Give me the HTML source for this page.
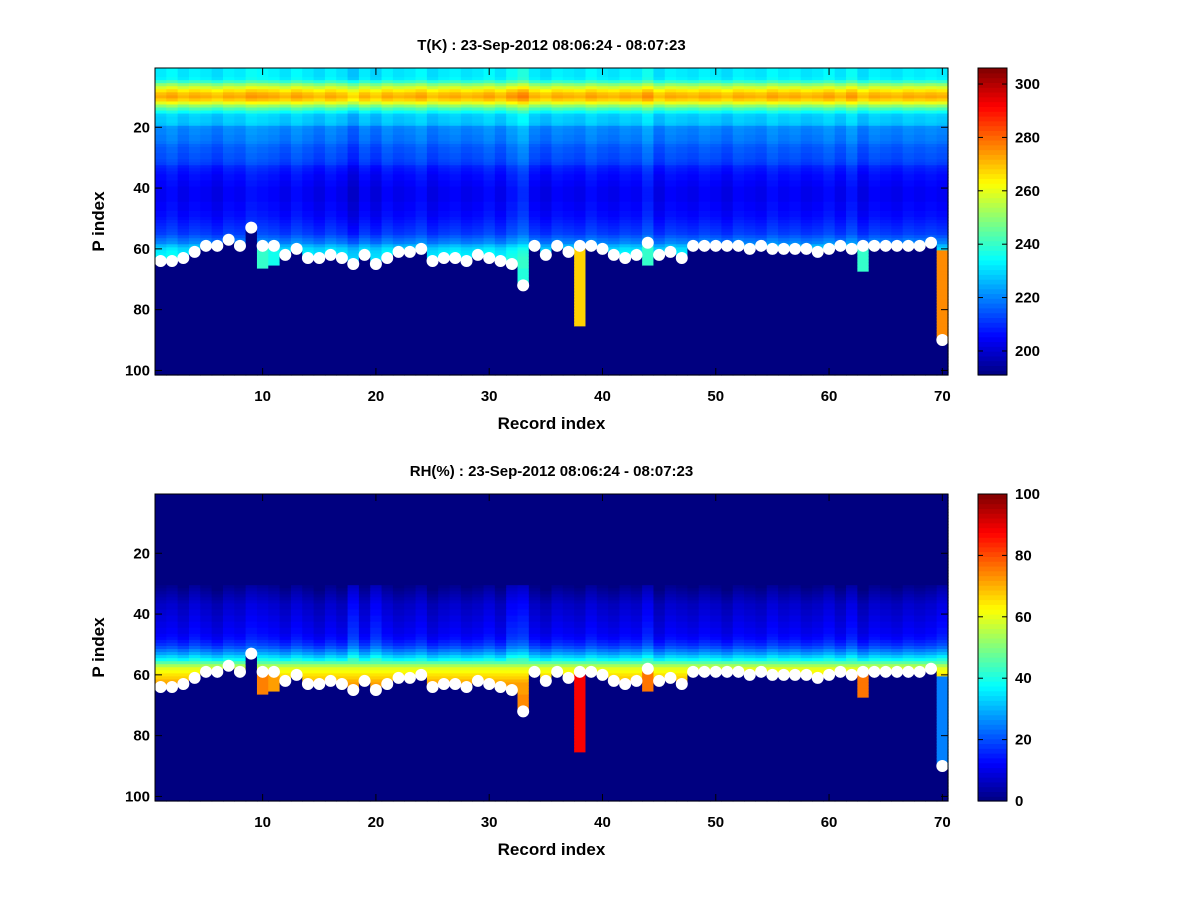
<!DOCTYPE html>
<html><head><meta charset="utf-8"><style>
html,body{margin:0;padding:0;background:#fff}
svg text{font-family:"Liberation Sans",sans-serif;font-weight:bold;fill:#000}
</style></head><body>
<svg id="fig" width="1200" height="900" xmlns="http://www.w3.org/2000/svg">
<rect width="1200" height="900" fill="#fff"/>
</svg>
<script>
// ---- data ----
const records = Array.from({length:70},(_,i)=>i+1);
const surfaceP = [64,64,63,61,59,59,57,59,53,59,59,62,60,63,63,62,63,65,62,65,63,61,61,60,64,63,63,64,62,63,64,65,72,59,62,59,61,59,59,60,62,63,62,58,62,61,63,59,59,59,59,59,60,59,60,60,60,60,61,60,59,60,59,59,59,59,59,59,58,90];
const extendP = {10:66,11:65,33:72,38:85,44:65,63:67,70:90};
const extStartP = {10:59,11:59,33:66,38:59,44:58,63:59,70:60};
const tExtVal = {10:240,11:236,33:238,38:268,44:240,63:240,70:276};
const rhExtVal = {10:75,11:72,33:74,38:88,44:76,63:76,70:25};
// temperature mean profile by P level (1..101)
const tProfile = [232,232,232,233,240,250,258,265,270,272,268,260,250,242,235,229,228,228,227,221,220,220,219,219,218,216,215,215,214,214,213,212,209,208,207,206,206,205,205,204,204,204,204,204,205,205,205,206,206,207,208,209,210,211,212,215,218,220,226,230,232,233,234,234,234,234,234,234,234,234,234,234,234,234,234,234,234,234,234,234,234,234,234,234,234,234,234,234,234,234,234,234,234,234,234,234,234,234,234,234,234];
const tOffset = [0,2,-1,1,0,-2,1,0,3,2,1,-1,2,0,-2,1,-1,-5,0,-3,1,-1,0,2,-2,0,1,-1,0,2,-1,3,6,0,-2,1,0,-1,2,0,-1,1,0,4,-2,1,0,-1,1,0,-2,1,0,-1,2,0,1,-1,0,2,-1,3,-2,1,0,-1,1,0,1,0];
// relative humidity mean profile by P level (1..101)
const rhProfile = [0,0,0,0,0,0,0,0,0,0,0,0,0,0,0,0,0,0,0,0,0,0,0,0,0,0,0,0,0,0,1,2,3,4,5,6,7,7,8,8,9,9,10,10,11,11,12,13,15,17,20,24,28,33,38,46,54,60,62,65,67,70,72,72,72,72,72,72,72,72,72,72,72,72,72,72,72,72,72,72,72,72,72,72,72,72,72,72,72,72,72,72,72,72,72,72,72,72,72,72,72];
const rhOffset = [0,1,-1,2,0,-2,1,0,3,2,1,-1,2,0,-2,1,-1,6,0,5,1,-1,0,2,-2,0,1,-1,0,2,-1,5,6,0,-2,1,0,-1,2,0,-1,1,0,4,-2,1,0,-1,1,0,-2,1,0,-1,2,0,1,-1,0,2,-1,3,-2,1,0,-1,1,0,1,3];
const xTicks=[10,20,30,40,50,60,70];
const yTicks=[20,40,60,80,100];
const tCbTicks=[200,220,240,260,280,300];
const rhCbTicks=[0,20,40,60,80,100];

const NS="http://www.w3.org/2000/svg";
const svg=document.getElementById('fig');
function mk(tag,attrs,parent){const e=document.createElementNS(NS,tag);for(const k in attrs)e.setAttribute(k,attrs[k]);(parent||svg).appendChild(e);return e;}
function jet(v){v=Math.max(0,Math.min(1,v));
 const r=Math.max(0,Math.min(1,1.5-Math.abs(4*v-3))),g=Math.max(0,Math.min(1,1.5-Math.abs(4*v-2))),b=Math.max(0,Math.min(1,1.5-Math.abs(4*v-1)));
 return `rgb(${Math.round(r*255)},${Math.round(g*255)},${Math.round(b*255)})`;}

function panel(cfg){
 const X0=155,X1=948,Y0=cfg.y0,Y1=cfg.y0+307;
 const xs=r=>X0+(r-0.5)*(X1-X0)/70;
 const ys=p=>Y0+(p-0.5)*(Y1-Y0)/101;
 const cw=(X1-X0)/70,ch=(Y1-Y0)/101;
 const g=mk('g',{});
 
 
 const norm=v=>(v-cfg.vmin)/(cfg.vmax-cfg.vmin);
 records.forEach((r,i)=>{
  for(let p=1;p<=101;p++){
   let v;
   const s=surfaceP[i];
   const ex=extendP[r]||0, es=extStartP[r]||999;
   if(p>es&&p<=ex) v=cfg.ext[r];
   else if(p<=s) v=cfg.field(i,p);
   else v=cfg.vmin;
   const c=mk('rect',{x:(xs(r)-cw/2).toFixed(2),y:(ys(p)-ch/2).toFixed(2),width:(cw+0.6).toFixed(2),height:(ch+0.6).toFixed(2),fill:jet(norm(v))},g);
   
   
  }
 });
 records.forEach((r,i)=>{
  const d=mk('circle',{cx:xs(r),cy:ys(surfaceP[i]),r:6,fill:'#fff'});
  
  
 });
 const f=mk('rect',{x:X0,y:Y0,width:X1-X0,height:Y1-Y0,fill:'none',stroke:'#000','stroke-width':1});
 
 
 xTicks.forEach(t=>{const x=xs(t);
  mk('line',{x1:x,y1:Y1,x2:x,y2:Y1-7,stroke:'#000'});mk('line',{x1:x,y1:Y0,x2:x,y2:Y0+7,stroke:'#000'});
  const tx=mk('text',{x:x,y:Y1+26,'text-anchor':'middle','font-size':15});tx.textContent=t;
  });
 yTicks.forEach(t=>{const y=ys(t);
  mk('line',{x1:X0,y1:y,x2:X0+7,y2:y,stroke:'#000'});mk('line',{x1:X1,y1:y,x2:X1-7,y2:y,stroke:'#000'});
  const tx=mk('text',{x:X0-5,y:y+5,'text-anchor':'end','font-size':15});tx.textContent=t;
  });
 let t=mk('text',{x:(X0+X1)/2,y:Y0-18,'text-anchor':'middle','font-size':15});t.textContent=cfg.title;
 
 t=mk('text',{x:(X0+X1)/2,y:Y1+54,'text-anchor':'middle','font-size':17});t.textContent='Record index';
 
 t=mk('text',{x:0,y:0,'text-anchor':'middle','font-size':17,transform:`translate(104,${(Y0+Y1)/2}) rotate(-90)`});t.textContent='P index';
 
 // colorbar
 const CX0=978,CX1=1007;
 const cb=mk('g',{});
 const n=64;
 for(let k=0;k<n;k++){const y=Y1-(k+1)*(Y1-Y0)/n;
  const s=mk('rect',{x:CX0,y:y.toFixed(2),width:CX1-CX0,height:((Y1-Y0)/n+0.6).toFixed(2),fill:jet((k+0.5)/n)},cb);
  }
 mk('rect',{x:CX0,y:Y0,width:CX1-CX0,height:Y1-Y0,fill:'none',stroke:'#000'},cb);
 const cys=v=>Y1-(v-cfg.vmin)/(cfg.vmax-cfg.vmin)*(Y1-Y0);
 cfg.cbTicks.forEach(v=>{const y=cys(v);
  mk('line',{x1:CX0,y1:y,x2:CX0+5,y2:y,stroke:'#000'},cb);mk('line',{x1:CX1,y1:y,x2:CX1-5,y2:y,stroke:'#000'},cb);
  const tx=mk('text',{x:CX1+8,y:y+5,'font-size':15},cb);tx.textContent=v;
  });
}
panel({name:'temperature',y0:68,vmin:191,vmax:306,title:'T(K) : 23-Sep-2012 08:06:24 - 08:07:23',
 field:(i,p)=>tProfile[p-1]+tOffset[i],ext:tExtVal,cbTicks:tCbTicks});
panel({name:'humidity',y0:494,vmin:0,vmax:100,title:'RH(%) : 23-Sep-2012 08:06:24 - 08:07:23',
 field:(i,p)=>Math.max(0,rhProfile[p-1]+(p>30&&p<56?rhOffset[i]:0)),ext:rhExtVal,cbTicks:rhCbTicks});
</script>
</body></html>
